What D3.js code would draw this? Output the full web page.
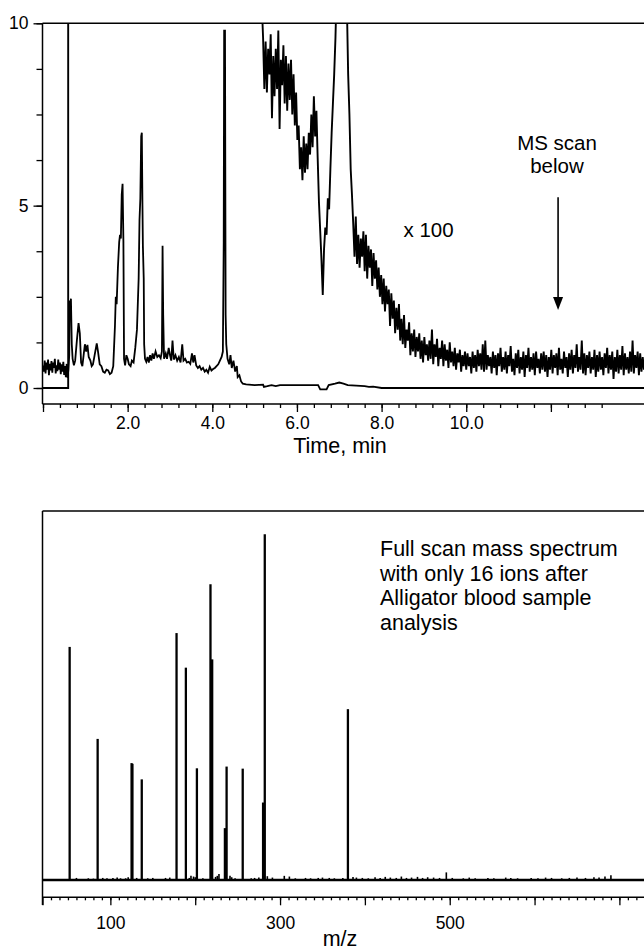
<!DOCTYPE html>
<html>
<head>
<meta charset="utf-8">
<style>
    body, html {
        margin: 0;
        padding: 0;
        background: #fff;
    }

    svg {
        display: block;
        font-family: "Liberation Sans", Arial, sans-serif;
    }
</style>
</head>
<body>
<svg width="644" height="952"></svg>

<script src="https://d3js.org/d3.v7.min.js"></script>
<script>
    // ---------- chromatogram (top) ----------
    // x1 trace, [time (min), response]
    var ticTrace = [
        [0.00,0.62],[0.02,0.45],[0.04,0.75],[0.06,0.40],[0.08,0.70],[0.10,0.50],[0.12,0.78],[0.14,0.35],
        [0.16,0.66],[0.18,0.48],[0.20,0.74],[0.22,0.42],[0.24,0.70],[0.26,0.55],[0.28,0.80],[0.30,0.40],
        [0.32,0.62],[0.34,0.46],[0.36,0.78],[0.38,0.50],[0.40,0.70],[0.42,0.38],[0.44,0.65],[0.46,0.45],
        [0.48,0.72],[0.50,0.36],[0.52,0.60],[0.54,0.30],[0.56,0.66],[0.58,0.28],[0.60,0.50],
        [0.62,0.90],[0.63,2.40],[0.645,2.10],[0.66,2.45],[0.68,1.20],[0.70,0.80],[0.73,0.62],[0.76,0.75],
        [0.80,1.30],[0.84,1.78],[0.87,1.50],[0.90,0.70],[0.93,0.60],[0.96,0.90],[0.99,1.20],[1.02,1.00],
        [1.05,1.18],[1.08,0.85],[1.12,0.75],[1.15,0.60],[1.18,0.65],[1.22,0.90],[1.27,1.22],[1.30,1.00],
        [1.34,0.65],[1.38,0.60],[1.42,0.45],[1.46,0.42],[1.50,0.50],[1.54,0.48],[1.58,0.38],[1.62,0.42],
        [1.66,0.60],[1.70,1.70],[1.72,2.50],[1.74,2.30],[1.77,3.30],[1.80,4.00],[1.82,4.20],[1.84,4.10],
        [1.86,5.30],[1.88,5.60],[1.90,4.00],[1.915,0.80],[1.94,0.62],[1.97,0.90],[2.00,0.80],[2.03,0.65],
        [2.07,0.60],[2.10,0.75],[2.14,0.70],[2.18,1.10],[2.22,1.60],[2.26,3.00],[2.28,4.60],[2.30,5.20],
        [2.32,6.90],[2.335,7.00],[2.35,5.00],[2.36,3.90],[2.38,3.00],[2.39,1.20],[2.41,0.80],[2.44,0.72],
        [2.47,0.85],[2.50,0.70],[2.53,0.90],[2.56,0.75],[2.59,0.95],[2.62,0.80],[2.66,1.00],[2.70,0.85],
        [2.74,0.90],[2.78,0.82],[2.81,1.00],[2.825,3.90],[2.84,2.00],[2.86,0.80],[2.90,0.95],[2.93,0.80],
        [2.97,1.10],[3.00,0.90],[3.03,0.75],[3.06,1.30],[3.09,0.78],[3.13,0.90],[3.17,0.75],[3.21,0.85],
        [3.25,0.70],[3.29,1.20],[3.32,0.75],[3.36,0.80],[3.40,0.70],[3.44,0.72],[3.48,0.66],[3.52,0.95],
        [3.55,0.70],[3.58,0.90],[3.62,0.62],[3.66,0.55],[3.70,0.60],[3.74,0.50],[3.78,0.55],[3.82,0.45],
        [3.86,0.50],[3.90,0.42],[3.94,0.58],[3.98,0.48],[4.02,0.52],[4.06,0.55],[4.10,0.60],[4.14,0.65],
        [4.18,0.75],[4.22,0.85],[4.25,1.00],[4.27,4.00],[4.28,9.80],[4.30,9.80],[4.315,2.00],[4.33,1.20],
        [4.36,0.80],[4.40,0.65],[4.43,0.90],[4.46,0.55],[4.50,0.75],[4.54,0.45],[4.58,0.60],[4.60,0.30],
        [4.64,0.35],[4.68,0.18],[4.72,0.12],[4.80,0.10],[5.00,0.08],[5.20,0.09],[5.22,0.03],[5.30,0.05],
        [5.40,0.08],[5.50,0.05],[5.60,0.08],[6.00,0.08],[6.50,0.08],[6.55,-0.04],[6.70,-0.04],[6.75,0.08],
        [6.90,0.12],[7.00,0.15],[7.10,0.12],[7.20,0.08],[7.60,0.05],[7.70,0.03],[7.80,0.04],[8.00,0.00],
        [14.2,0.00]
    ];

    // x100 trace: flat start, off scale from the solvent front to 5.2 min
    var x100Head = [[0, 0], [0.595, 0], [0.595, 12], [5.15, 12], [5.18, 10.2]];
    // then sampled every 0.03 min from 5.20 min
    var x100Start = 5.20;
    var x100Step = 0.03;
    var x100Values = [
        9.6, 8.2, 9.5, 8.1, 9.3, 8.6, 9.7, 7.4, 9.1, 8.0,
        9.3, 8.2, 9.8, 7.1, 9.0, 8.3, 9.4, 7.8, 9.1, 7.6,
        8.9, 7.9, 9.0, 7.5, 8.6, 7.2, 8.1, 6.8, 7.2, 6.0,
        6.6, 5.7, 6.9, 5.9, 6.7, 6.0, 7.0, 6.4, 7.5, 6.6,
        8.0, 6.9, 7.6, 6.3, 5.1, 4.3, 3.5, 2.55, 3.8, 4.4,
        4.2, 5.2, 4.9, 6.0, 7.0, 7.8, 8.6, 9.6, 11, 11,
        11, 11, 11, 11, 11, 11, 10.5, 8.6, 7.5, 6.0,
        5.3, 4.5, 3.6, 4.7, 3.4, 4.2, 3.3, 4.1, 3.6, 4.3,
        3.2, 4.2, 3.0, 3.9, 3.3, 3.8, 2.8, 3.7, 3.0, 3.5,
        2.7, 3.3, 2.5, 3.1, 2.3, 3.0, 2.1, 2.8, 2.3, 2.7,
        1.7, 2.6, 1.9, 2.4, 1.5, 2.2, 1.6, 2.3, 1.3, 1.9,
        1.2, 2.0, 1.1, 1.6, 1.3, 1.8, 0.9, 1.5, 1.0, 1.6,
        0.85, 1.4, 1.0, 1.5, 0.8, 1.3, 0.7, 1.4, 0.9, 1.2,
        0.75, 1.3, 0.8, 1.6, 0.65, 1.2, 0.85, 1.35, 0.6, 1.1,
        0.8, 1.3, 0.6, 1.2, 0.75, 1.05, 0.55, 1.25, 0.7, 1.0,
        0.6, 1.1, 0.5, 0.95, 0.7, 1.05, 0.45, 0.9, 0.6, 1.0,
        0.5, 0.95, 0.6, 0.85, 0.4, 1.0, 0.55, 0.9, 0.45, 1.05,
        0.6, 0.95, 0.5, 1.2, 0.45, 1.3, 0.5, 0.9, 0.6, 0.85,
        0.4, 1.0, 0.55, 0.9, 0.35, 0.95, 0.6, 1.1, 0.45, 0.85,
        0.5, 1.0, 0.4, 0.9, 0.6, 1.15, 0.45, 0.8, 0.35, 0.95,
        0.55, 1.05, 0.4, 0.85, 0.5, 1.0, 0.3, 0.9, 0.55, 1.1,
        0.45, 0.85, 0.5, 0.95, 0.35, 1.0, 0.55, 0.8, 0.4, 0.95,
        0.5, 1.0, 0.45, 0.9, 0.3, 0.85, 0.5, 1.05, 0.4, 0.9,
        0.55, 0.95, 0.35, 1.1, 0.5, 0.8, 0.4, 1.0, 0.55, 0.85,
        0.3, 0.95, 0.5, 1.05, 0.4, 0.9, 0.55, 1.2, 0.45, 0.85,
        0.5, 1.3, 0.4, 0.95, 0.35, 0.9, 0.55, 1.0, 0.4, 0.85,
        0.5, 1.05, 0.3, 0.9, 0.45, 1.0, 0.5, 0.85, 0.35, 0.95,
        0.55, 1.1, 0.4, 0.9, 0.5, 1.0, 0.25, 0.85, 0.45, 1.05,
        0.4, 0.9, 0.5, 1.15, 0.35, 0.95, 0.5, 0.85, 0.4, 1.0,
        0.45, 1.3, 0.4, 0.9, 0.55, 1.0, 0.35, 0.95, 0.45, 0.85,
        0.5
    ];

    var timeMajor = [0, 2, 4, 6, 8, 10, 12];
    var timeLabels = [2, 4, 6, 8, 10];
    var respLabels = [0, 5, 10];

    // ---------- mass spectrum (bottom) ----------
    var ionMz = [52, 85, 125, 126, 137, 178, 189, 202, 218, 220, 235, 237, 256, 280, 282, 380];
    var ionAbund = [67.4, 40.8, 33.8, 33.6, 29.1, 71.4, 61.4, 32.3, 85.5, 63.8, 15.0, 32.8, 32.2, 22.4, 100, 49.4];

    // small background ions along the baseline
    var noiseMz = [60, 74, 80, 91, 96, 103, 108, 112, 118, 121, 131, 144, 150, 165, 170, 193, 195, 198, 200,
        209, 224, 226, 228, 241, 243, 247, 266, 270, 275, 285, 291, 305, 311, 318, 330, 336, 345, 350, 358,
        364, 374, 386, 390, 397, 404, 412, 418, 424, 430, 437, 443, 449, 455, 462, 468, 474, 481, 488, 496,
        503, 516, 523, 530, 545, 552, 566, 572, 580, 596, 604, 613, 620, 632, 641, 650, 660, 670, 676, 683, 690];
    var noiseAbund = [0.6, 0.5, 0.4, 0.6, 0.5, 0.6, 0.7, 0.5, 0.5, 0.8, 0.6, 0.5, 0.6, 0.6, 0.7, 0.6, 1.2, 1.0, 0.8,
        0.5, 0.9, 1.2, 1.7, 1.2, 0.8, 0.5, 0.5, 0.6, 0.7, 1.1, 0.7, 1.2, 1.0, 0.5, 0.6, 0.5, 0.6, 0.7, 0.6,
        0.5, 0.6, 0.9, 0.7, 0.6, 0.5, 0.8, 0.6, 0.9, 0.7, 0.6, 1.0, 0.6, 0.7, 0.9, 0.6, 0.8, 0.7, 0.6, 2.2,
        0.6, 0.5, 0.7, 0.5, 0.6, 0.5, 0.7, 0.6, 0.5, 0.6, 0.5, 0.7, 0.6, 0.5, 0.6, 0.7, 0.6, 0.8, 0.7, 1.0, 1.4];

    var mzMajor = [100, 200, 300, 400, 500, 600, 700];
    var mzLabels = [100, 300, 500];

    var svg = d3.select("svg");
    var ink = "#000";

    // ===== top panel =====
    var xT = d3.scaleLinear().domain([0, 14.2]).range([43, 644]);
    var yT = d3.scaleLinear().domain([0, 10]).range([388, 23.3]);
    var lineT = d3.line().x(function (d) { return xT(d[0]); }).y(function (d) { return yT(d[1]); });

    svg.append("clipPath").attr("id", "clipT")
        .append("rect").attr("x", 42.5).attr("y", yT(10)).attr("width", 602).attr("height", 380);

    var x100Trace = x100Head.concat(x100Values.map(function (v, i) {
        return [x100Start + i * x100Step, v];
    }));

    var plotT = svg.append("g").attr("clip-path", "url(#clipT)");
    plotT.append("path").datum(ticTrace).attr("d", lineT)
        .attr("fill", "none").attr("stroke", ink).attr("stroke-width", 1.8);
    plotT.append("path").datum(x100Trace).attr("d", lineT)
        .attr("fill", "none").attr("stroke", ink).attr("stroke-width", 1.9);

    // frame: top and left
    svg.append("line").attr("x1", 42.5).attr("x2", 644).attr("y1", yT(10)).attr("y2", yT(10))
        .attr("stroke", ink).attr("stroke-width", 1.5);
    svg.append("line").attr("x1", 42.5).attr("x2", 42.5).attr("y1", yT(10)).attr("y2", 404)
        .attr("stroke", ink).attr("stroke-width", 1.5);

    function styleAxis(g, size) {
        g.attr("font-family", null).attr("font-size", size);
        g.selectAll("line").attr("stroke", ink).attr("stroke-width", 1.3);
        g.selectAll("text").attr("fill", ink);
        g.select(".domain").remove();
    }

    // y axis
    svg.append("g").attr("transform", "translate(42.5,0)")
        .call(d3.axisLeft(yT).tickValues(d3.range(0, 10.01, 1.25)).tickSize(6).tickFormat(""))
        .call(styleAxis, 17.5);
    svg.append("g").attr("transform", "translate(42.5,0)")
        .call(d3.axisLeft(yT).tickValues(respLabels).tickSize(9).tickPadding(5).tickFormat(d3.format("d")))
        .call(styleAxis, 17.5);

    // x axis
    var gxT = svg.append("g").attr("transform", "translate(0,404)");
    gxT.append("line").attr("x1", 42.5).attr("x2", 644).attr("stroke", ink).attr("stroke-width", 1.5);
    gxT.append("g")
        .call(d3.axisBottom(xT).tickValues(d3.range(0, 13.25, 0.4)).tickSize(4).tickFormat(""))
        .call(styleAxis, 17.5);
    gxT.append("g")
        .call(d3.axisBottom(xT).tickValues(timeMajor).tickSize(8).tickPadding(4.5)
            .tickFormat(function (d) { return timeLabels.indexOf(d) >= 0 ? d.toFixed(1) : ""; }))
        .call(styleAxis, 17.5);

    svg.append("text").attr("x", 340).attr("y", 453).attr("text-anchor", "middle")
        .attr("font-size", 21.5).text("Time, min");

    // annotations
    svg.append("text").attr("x", 403.5).attr("y", 236.5).attr("font-size", 20.5).text("x 100");
    svg.append("text").attr("x", 557).attr("y", 150).attr("text-anchor", "middle")
        .attr("font-size", 20.5).text("MS scan");
    svg.append("text").attr("x", 557).attr("y", 172.5).attr("text-anchor", "middle")
        .attr("font-size", 20.5).text("below");

    var arrowT = 12.17, arrowFrom = 5.23, arrowTo = 2.14;
    svg.append("line").attr("x1", xT(arrowT)).attr("x2", xT(arrowT))
        .attr("y1", yT(arrowFrom)).attr("y2", yT(arrowTo) - 10)
        .attr("stroke", ink).attr("stroke-width", 1.6);
    svg.append("path")
        .attr("d", "M" + (xT(arrowT) - 5) + "," + (yT(arrowTo) - 13) +
            "L" + (xT(arrowT) + 5) + "," + (yT(arrowTo) - 13) +
            "L" + xT(arrowT) + "," + yT(arrowTo) + "Z")
        .attr("fill", ink);

    // ===== bottom panel =====
    var xB = d3.scaleLinear().domain([20, 729]).range([42.5, 644]);
    var yB = d3.scaleLinear().domain([0, 106.7]).range([880, 511]);

    svg.append("line").attr("x1", 42.5).attr("x2", 644).attr("y1", yB(106.7)).attr("y2", yB(106.7))
        .attr("stroke", ink).attr("stroke-width", 1.5);
    svg.append("line").attr("x1", 42.5).attr("x2", 42.5).attr("y1", yB(106.7)).attr("y2", 905)
        .attr("stroke", ink).attr("stroke-width", 1.5);

    var noise = noiseMz.map(function (m, i) { return { mz: m, a: noiseAbund[i] }; });
    var ions = ionMz.map(function (m, i) { return { mz: m, a: ionAbund[i] }; });

    svg.append("g").selectAll("line").data(noise).join("line")
        .attr("x1", function (d) { return xB(d.mz); }).attr("x2", function (d) { return xB(d.mz); })
        .attr("y1", yB(0)).attr("y2", function (d) { return yB(d.a); })
        .attr("stroke", ink).attr("stroke-width", 1.6);

    svg.append("g").selectAll("line").data(ions).join("line")
        .attr("x1", function (d) { return xB(d.mz); }).attr("x2", function (d) { return xB(d.mz); })
        .attr("y1", yB(0)).attr("y2", function (d) { return yB(d.a); })
        .attr("stroke", ink).attr("stroke-width", 2.3);

    // heavy baseline
    svg.append("line").attr("x1", 42.5).attr("x2", 644).attr("y1", yB(0)).attr("y2", yB(0))
        .attr("stroke", ink).attr("stroke-width", 2.6);

    var gxB = svg.append("g").attr("transform", "translate(0,897.3)");
    gxB.append("line").attr("x1", 42.5).attr("x2", 644).attr("stroke", ink).attr("stroke-width", 1.5);
    gxB.append("g")
        .call(d3.axisBottom(xB).tickValues(d3.range(30, 721, 10)).tickSize(3).tickFormat(""))
        .call(styleAxis, 17.5);
    gxB.append("g")
        .call(d3.axisBottom(xB).tickValues([20].concat(mzMajor)).tickSize(8).tickPadding(11)
            .tickFormat(function (d) { return mzLabels.indexOf(d) >= 0 ? d : ""; }))
        .call(styleAxis, 17.5);

    svg.append("text").attr("x", 340).attr("y", 946).attr("text-anchor", "middle")
        .attr("font-size", 21.5).text("m/z");

    var noteLines = ["Full scan mass spectrum", "with only 16 ions after", "Alligator blood sample", "analysis"];
    svg.append("g").selectAll("text").data(noteLines).join("text")
        .attr("x", 380).attr("y", function (d, i) { return 556 + i * 24.5; })
        .attr("font-size", 21.5).text(function (d) { return d; });
</script>
</body>
</html>
